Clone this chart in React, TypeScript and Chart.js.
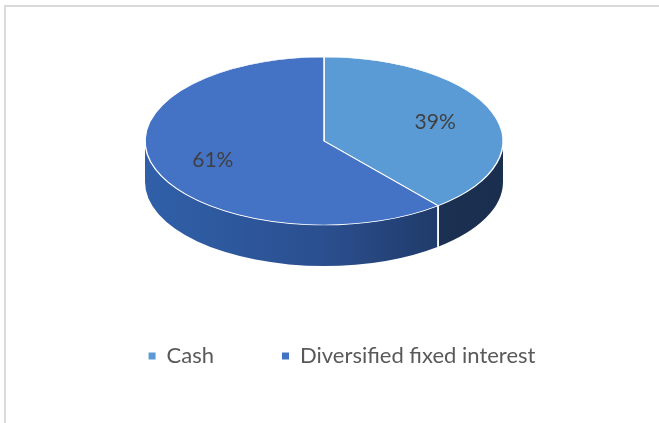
import React, { useEffect, useRef } from "react";
import { Chart, registerables } from "chart.js";

Chart.register(...registerables);

const categories = ["Cash", "Diversified fixed interest"];
const shares = [39, 61];
const topColors = ["#5B9BD5", "#4472C4"];
const sideStops = [
  ["#22406a", "#1f385e", "#1c3254", "#1a2e4e"],
  ["#3060a9", "#2b4f8f", "#223f72", "#1c3357"],
];

const TILT = 84 / 179;
const DEPTH = 41;
const LEGEND_SHIFT = 18;

const pie3d = {
  id: "pie3d",
  afterLayout(chart: any) {
    if (chart.legend) {
      chart.legend.left += LEGEND_SHIFT;
      chart.legend.right += LEGEND_SHIFT;
    }
  },
  beforeDatasetsDraw(chart: any) {
    const meta = chart.getDatasetMeta(0);
    const ctx = chart.ctx;
    const first = meta.data[0];
    const cx = first.x;
    const cy = first.y;
    const r = first.outerRadius;
    const ry = r * TILT;
    meta.data.forEach((arc: any, i: number) => {
      const s = arc.startAngle;
      const e = arc.endAngle;
      for (const off of [-2 * Math.PI, 0, 2 * Math.PI]) {
        const a1 = Math.max(s + off, 0);
        const a2 = Math.min(e + off, Math.PI);
        if (a2 <= a1) continue;
        const g = ctx.createLinearGradient(cx - r, 0, cx + r, 0);
        const st = sideStops[i];
        g.addColorStop(0, st[0]);
        g.addColorStop(0.5, st[1]);
        g.addColorStop(0.75, st[2]);
        g.addColorStop(1, st[3]);
        ctx.save();
        ctx.fillStyle = g;
        ctx.beginPath();
        ctx.ellipse(cx, cy, r, ry, 0, a1, a2);
        ctx.lineTo(cx + r * Math.cos(a2), cy + ry * Math.sin(a2) + DEPTH);
        ctx.ellipse(cx, cy + DEPTH, r, ry, 0, a2, a1, true);
        ctx.closePath();
        ctx.fill();
        ctx.restore();
      }
    });
    // white divider lines on the side
    meta.data.forEach((arc: any) => {
      for (const a of [arc.startAngle, arc.endAngle]) {
        let n = a % (2 * Math.PI);
        if (n < 0) n += 2 * Math.PI;
        if (n > 0.01 && n < Math.PI - 0.01) {
          const px = cx + r * Math.cos(n);
          const py = cy + ry * Math.sin(n);
          ctx.save();
          ctx.strokeStyle = "#ffffff";
          ctx.lineWidth = 1.5;
          ctx.beginPath();
          ctx.moveTo(px, py);
          ctx.lineTo(px, py + DEPTH);
          ctx.stroke();
          ctx.restore();
        }
      }
    });
    ctx.save();
    ctx.translate(cx, cy);
    ctx.scale(1, TILT);
    ctx.translate(-cx, -cy);
  },
  afterDatasetsDraw(chart: any) {
    const ctx = chart.ctx;
    ctx.restore();
    const meta = chart.getDatasetMeta(0);
    const data = chart.data.datasets[0].data as number[];
    const total = data.reduce((a, b) => a + b, 0);
    ctx.save();
    ctx.font = "21px Lato";
    ctx.fillStyle = "#404040";
    ctx.textAlign = "center";
    ctx.textBaseline = "middle";
    meta.data.forEach((arc: any, i: number) => {
      const mid = (arc.startAngle + arc.endAngle) / 2;
      const f = 0.66;
      const x = arc.x + Math.cos(mid) * arc.outerRadius * f;
      const y = arc.y + Math.sin(mid) * arc.outerRadius * f * TILT;
      ctx.fillText(Math.round((data[i] / total) * 100) + "%", x, y);
    });
    ctx.restore();
  },
};

export default function App() {
  const ref = useRef<HTMLCanvasElement | null>(null);
  useEffect(() => {
    if (!ref.current) return;
    const chart = new Chart(ref.current, {
      type: "pie",
      data: {
        labels: categories,
        datasets: [
          {
            data: shares,
            backgroundColor: topColors,
            borderColor: "#ffffff",
            borderWidth: 1.5,
          },
        ],
      },
      options: {
        animation: false,
        responsive: false,
        radius: 179,
        layout: { padding: { top: 5, bottom: 46, left: 0, right: 11 } },
        plugins: {
          tooltip: { enabled: false },
          legend: {
            position: "bottom",
            labels: {
              boxWidth: 7,
              boxHeight: 7,
              padding: 68,
              color: "#595959",
              font: { family: "Lato", size: 22 },
              generateLabels: (c: any) =>
                (Chart as any).overrides.pie.plugins.legend.labels
                  .generateLabels(c)
                  .map((l: any) => ({ ...l, lineWidth: 0, strokeStyle: "transparent" })),
            },
          },
        },
      } as any,
      plugins: [pie3d],
    });
    return () => chart.destroy();
  }, []);
  return (
    <div style={{ position: "fixed", left: 0, top: 0, width: 659, height: 423, background: "#ffffff" }}>
      <div
        style={{
          position: "absolute",
          left: 4,
          top: 5,
          width: 700,
          height: 500,
          borderTop: "2px solid #dadada",
          borderLeft: "2px solid #dadada",
        }}
      />
      <canvas ref={ref} width={659} height={423} style={{ position: "absolute", left: 0, top: 0 }} />
    </div>
  );
}
